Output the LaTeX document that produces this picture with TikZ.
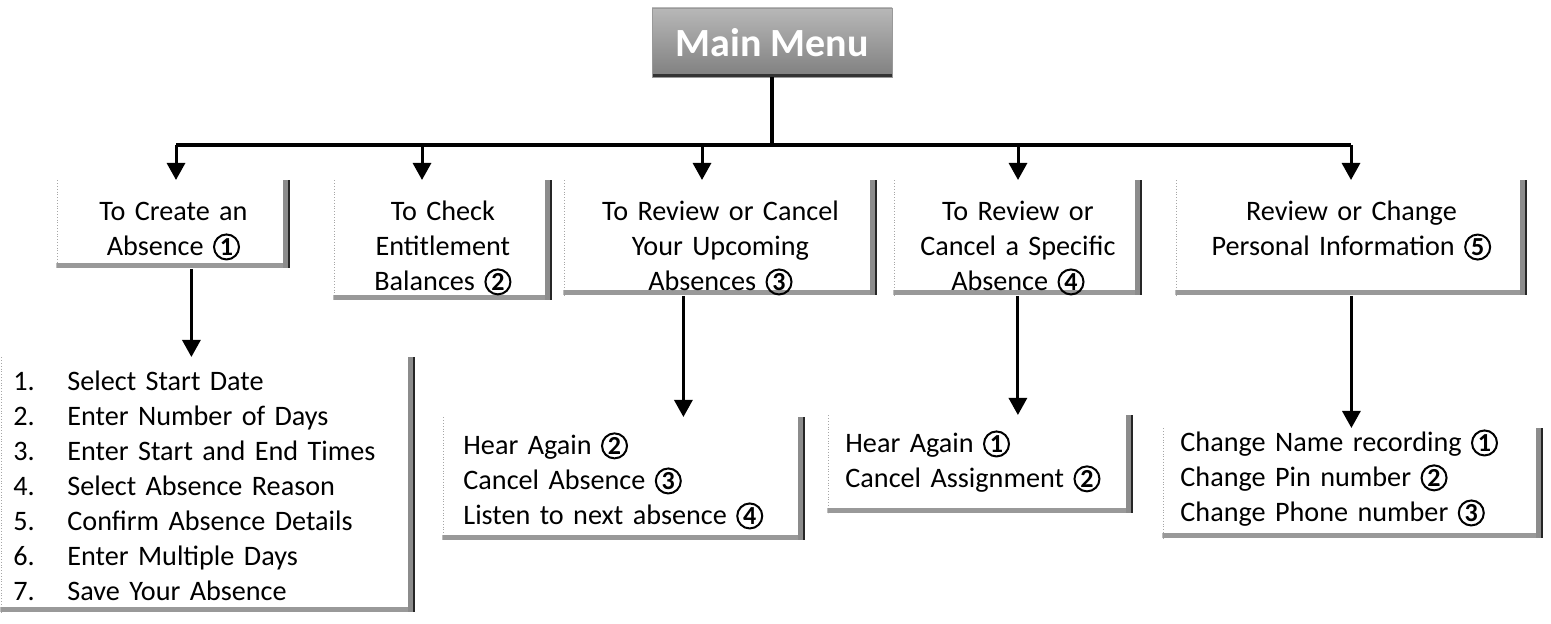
\documentclass[tikz,border=0pt]{standalone}
\usepackage{fontspec}
\setmainfont{Carlito}
\usetikzlibrary{arrows.meta,positioning}
\newcommand{\cn}[1]{\tikz[baseline=(cnum.base)]\node[circle, draw, line width=1pt,
  inner sep=0pt, minimum size=12.5pt, text width={}, text height={}, text depth={},
  anchor=center, font=\bfseries\fontsize{13}{13}\selectfont] (cnum) {#1};}
\newcommand{\listline}[2]{\makebox[27pt][l]{#1.}#2}

\tikzset{
  menutitle/.style={top color=black!28, bottom color=black!50, draw=black!40,
    text=white, font=\bfseries\fontsize{20}{24}\selectfont,
    minimum width=120pt, minimum height=34.5pt,
    path picture={\fill[black!80] (path picture bounding box.south west)
      rectangle ([yshift=1.5pt]path picture bounding box.south east);}},
  menubox/.style={anchor=north west, fill=white, inner ysep=0pt,
    font=\fontsize{14.1}{17.5}\selectfont,
    path picture={
      \draw[black!35, densely dotted] ([xshift=0.4pt]path picture bounding box.north west)
        -- ([xshift=0.4pt]path picture bounding box.south west);
      \fill[black!40] (path picture bounding box.south west)
        rectangle ([yshift=2.5pt]path picture bounding box.south east);
      \fill[black!45] ([xshift=-3.5pt]path picture bounding box.north east)
        rectangle (path picture bounding box.south east);
      \fill[black!85] ([xshift=-1.2pt]path picture bounding box.north east)
        rectangle (path picture bounding box.south east);}},
  topbox/.style={menubox, align=center, inner xsep=4pt, text height=20pt},
  subbox/.style={menubox, align=left},
  bus/.style={line width=1.7pt},
  link/.style={line width=1.5pt, -{Triangle[length=8.5pt,width=9pt]}}
}

\begin{document}
\begin{tikzpicture}[x=0.5pt,y=-0.5pt]
  \useasboundingbox (0,0) rectangle (1551,624);

  \node[menutitle] (menu) at (772,42.5) {Main Menu};

  % first level
  \node[topbox, text width=109pt, text depth=24pt] (create) at (56,180) {To Create an\\ Absence \cn{1}};
  \node[topbox, text width=101.5pt, text depth=40pt] (check) at (333,180) {To Check\\ Entitlement\\ Balances \cn{2}};
  \node[topbox, text width=149pt, text depth=37.5pt] (review) at (563,180) {To Review or Cancel\\ Your Upcoming\\ Absences \cn{3}};
  \node[topbox, text width=116.5pt, text depth=37.5pt] (specific) at (893,180) {To Review or\\ Cancel a Specific\\ Absence \cn{4}};
  \node[topbox, text width=168pt, text depth=37.5pt] (personal) at (1175,180) {Review or Change\\ Personal Information \cn{5}};

  % second level
  \node[subbox, inner xsep=6.5pt, text width=194.5pt, text height=16.5pt, text depth=111pt] (steps) at (0,357)
    {\listline{1}{Select Start Date}\\ \listline{2}{Enter Number of Days}\\
     \listline{3}{Enter Start and End Times}\\ \listline{4}{Select Absence Reason}\\
     \listline{5}{Confirm Absence Details}\\ \listline{6}{Enter Multiple Days}\\
     \listline{7}{Save Your Absence}};
  \node[subbox, inner xsep=10.5pt, text width=160.5pt, text height=18.5pt, text depth=43pt] (upcoming) at (442,417)
    {Hear Again \cn{2}\\ Cancel Absence \cn{3}\\ Listen to next absence \cn{4}};
  \node[subbox, inner xsep=9pt, text width=135pt, text height=18.5pt, text depth=30.5pt] (assign) at (827,415)
    {Hear Again \cn{1}\\ Cancel Assignment \cn{2}};
  \node[subbox, inner xsep=9pt, text width=172.5pt, text height=11.5pt, text depth=43.5pt] (contact) at (1162,428)
    {Change Name recording \cn{1}\\ Change Pin number \cn{2}\\ Change Phone number \cn{3}};

  % bus taps
  \coordinate (t1) at (176,145);
  \coordinate (t2) at (422,145);
  \coordinate (t3) at (702,145);
  \coordinate (t4) at (1018,145);
  \coordinate (t5) at (1351,145);

  \draw[bus] (menu.south) -- (menu.south |- t1);
  \draw[bus] (t1) -- (t5);
  \draw[link] (t1) -- (t1 |- create.north);
  \draw[link] (t2) -- (t2 |- check.north);
  \draw[link] (t3) -- (t3 |- review.north);
  \draw[link] (t4) -- (t4 |- specific.north);
  \draw[link] (t5) -- (t5 |- personal.north);

  \draw[link] ([xshift=9pt]create.south) -- ([xshift=9pt]create.south |- steps.north);
  \draw[link] ([xshift=-18.5pt]review.south) -- ([xshift=-18.5pt]review.south |- upcoming.north);
  \draw[link] (specific.south) -- (specific.south |- assign.north);
  \draw[link] (personal.south) -- (personal.south |- contact.north);
\end{tikzpicture}
\end{document}
